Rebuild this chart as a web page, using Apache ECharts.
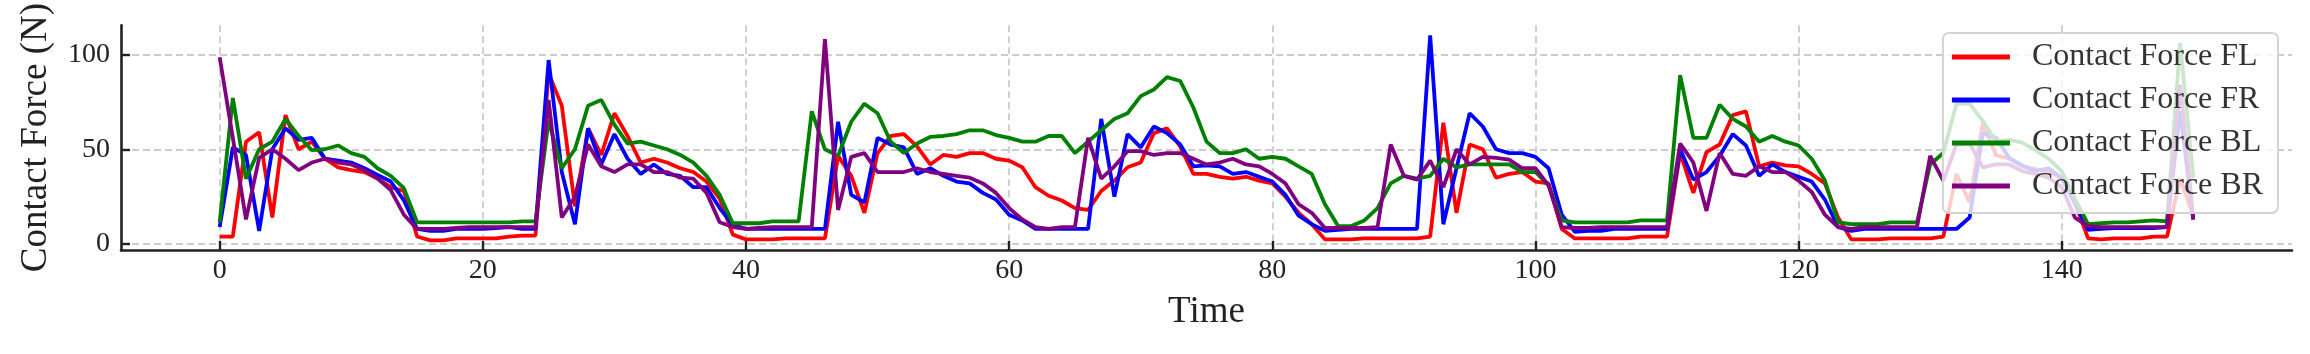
<!DOCTYPE html>
<html>
<head>
<meta charset="utf-8">
<script src="https://cdn.jsdelivr.net/npm/echarts@6/dist/echarts.min.js"></script>
<style>
html, body { margin: 0; padding: 0; background: #fff; }
#chart { width: 2310px; height: 354px; }
</style>
</head>
<body>
<div id="chart"></div>
<script>
// contact force per time step (N)
const forceFL = [4, 4, 54, 59, 14, 68, 50, 54, 45, 40.5, 39, 38, 34.5, 30, 28, 4, 2, 2, 3, 3,
  3, 3, 4, 4.5, 4.5, 90, 73, 20, 61, 47, 69, 57, 43, 45, 43, 40, 38, 33, 24, 5,
  2.5, 2.5, 2.5, 3, 3, 3, 3, 46.5, 36, 16.5, 48, 57, 58, 51.5, 42, 47, 46, 48, 48, 45,
  44, 40.5, 30, 25.5, 23, 19, 18, 28, 33.5, 40.5, 43, 58.5, 61, 51.5, 37, 37, 35.5, 34.5, 35.5, 33.5,
  32, 25, 16.5, 10.5, 2.5, 2.5, 2.5, 3, 3, 3, 3, 3, 4, 64, 16.5, 52.5, 50, 35, 37, 38,
  33, 32, 8, 3, 3, 3, 3, 3, 4, 4, 4, 48, 27, 48.5, 52.5, 68, 70, 41, 43, 41.5,
  41, 37, 32, 14, 2.5, 2.5, 2.5, 3, 3, 3, 3, 4, 37, 22, 64, 47, 45, 41, 39.5, 38,
  35, 22, 3, 2.5, 3, 3, 3, 4, 4, 34.5, 15];
const forceFR = [9, 51, 47, 7, 50, 61, 55, 56, 45, 44, 43, 40, 36.5, 33, 23, 8, 7, 7, 8, 8,
  8, 8.5, 9, 8, 8, 97, 38, 10.5, 61, 42, 58, 45, 37, 42, 37, 36, 30, 30, 19, 10,
  8, 8, 8, 8, 8, 8, 8, 64.5, 26, 22, 56, 52.5, 51, 37, 40, 36, 33, 32, 27, 23.5,
  15.5, 12.5, 8, 8, 8, 8, 8, 66, 25, 58, 51, 62, 58.5, 52.5, 41, 41.5, 41, 37, 38, 35.5,
  33, 26, 15, 10.5, 7, 7.5, 8, 8, 8, 8, 8, 8, 110, 10.5, 40, 69, 62, 50, 48, 48,
  46, 40, 15.5, 6.5, 7, 7, 8, 8, 8, 8, 8, 50, 34, 38, 46.5, 58, 52, 36, 42, 38,
  35.5, 33, 23.5, 9, 7, 8, 8, 8, 8, 8, 8, 8, 8, 14, 58.5, 56, 45.5, 41.5, 38.5, 40,
  35, 21.5, 7.5, 8, 8.5, 8.5, 8.5, 8.5, 9, 70, 13];
const forceBL = [11.5, 77, 34.5, 50, 54, 66, 57, 49.5, 50, 52, 48, 46, 40, 36, 29.5, 11.5, 11.5, 11.5, 11.5, 11.5,
  11.5, 11.5, 11.5, 12, 12, 65, 40, 50, 73, 76, 63, 53, 54, 52, 50, 47, 43, 36, 26, 11,
  11, 11, 12, 12, 12, 70, 50, 46.5, 64.5, 74, 69, 54, 48, 53, 56.5, 57, 58, 60, 60, 57.5,
  56, 54, 54, 57, 57, 48, 54, 60, 66, 69, 78, 81.5, 88, 86, 72, 54, 48, 48, 50, 45,
  46, 45, 41, 37, 21, 9.5, 9.5, 12.5, 19, 32, 36, 34.5, 36, 45, 40.5, 42, 42, 42, 42, 38,
  38, 31, 12.5, 11.5, 11.5, 11.5, 11.5, 11.5, 12.5, 12.5, 12.5, 89, 56, 56, 73.5, 66, 62, 54, 57, 54,
  52, 45, 33.5, 11.5, 10.5, 10.5, 10.5, 11.5, 11.5, 11.5, 42, 48, 74, 74, 65, 54, 55, 53.5, 49.5, 45,
  38.5, 24, 10.5, 11, 11.5, 11.5, 12, 12.5, 12, 106, 35];
const forceBR = [98.5, 56, 13, 45.5, 50, 45, 39, 43, 45, 43, 42, 39, 34.5, 28.5, 15.5, 8, 8, 8, 8.5, 9,
  9, 9, 9, 9, 9, 76, 14, 25, 52.5, 41, 38, 42, 42, 38, 38, 35, 34.5, 27, 11.5, 9,
  8, 8.5, 9, 9, 9, 9, 108, 18, 46, 48, 38, 38, 38, 40, 38, 37, 36, 35, 32, 27,
  19, 13, 9, 8, 9, 9, 56, 34.5, 41, 49, 49, 47, 48, 48, 45, 42, 43, 45, 42, 41,
  37, 32, 21, 16.5, 8.5, 8.5, 8.5, 8.5, 9, 52.5, 36, 34, 44, 30, 50, 42, 46, 45.5, 44.5, 40,
  40, 31, 9, 8.5, 8.5, 9, 9, 9, 9, 9, 9, 53, 43, 17.5, 48, 37, 36, 41, 38, 38,
  33.5, 27.5, 15.5, 9, 8, 9, 9, 9, 9, 9, 46.5, 33.5, 52.5, 53, 40.5, 42, 42, 38.5, 37, 35,
  30, 14, 9.5, 9, 9, 9, 9, 9, 9, 84, 13];

const seriesNames = ['Contact Force FL', 'Contact Force FR', 'Contact Force BL', 'Contact Force BR'];
const seriesColors = ['#ff0000', '#0000ff', '#008000', '#800080'];
const xTicks = [0, 20, 40, 60, 80, 100, 120, 140];
const yTicks = [0, 50, 100];

const serif = 'Liberation Serif, Times New Roman, serif';
const ink = '#222';

const chart = echarts.init(document.getElementById('chart'));

const allSeries = [forceFL, forceFR, forceBL, forceBR].map(function (vals, k) {
  return {
    name: seriesNames[k],
    type: 'line',
    data: vals.map(function (v, i) { return [i, v]; }),
    showSymbol: false,
    symbol: 'none',
    animation: false,
    lineStyle: { color: seriesColors[k], width: 3.8 },
    itemStyle: { color: seriesColors[k] }
  };
});

chart.setOption({
  animation: false,
  grid: { left: 121, right: 18, top: 19, bottom: 104 },
  xAxis: {
    type: 'value',
    min: -7.5,
    max: 157.5,
    name: 'Time',
    nameLocation: 'middle',
    nameGap: 44,
    nameTextStyle: { fontFamily: serif, fontSize: 37, color: ink },
    axisLine: { show: true, onZero: false, lineStyle: { color: ink, width: 2.6 } },
    axisTick: { show: true, inside: true, length: 9, customValues: xTicks, lineStyle: { color: ink, width: 2.4 } },
    axisLabel: { customValues: xTicks, margin: 7, fontFamily: serif, fontSize: 28, color: ink },
    splitLine: { show: true, lineStyle: { color: '#cccccc', width: 1.8, type: [7, 4] } }
  },
  yAxis: {
    type: 'value',
    min: -3.1,
    max: 115.4,
    name: 'Contact Force (N)',
    nameLocation: 'middle',
    nameRotate: 90,
    nameGap: 66,
    nameTextStyle: { fontFamily: serif, fontSize: 37, color: ink },
    axisLine: { show: true, onZero: false, lineStyle: { color: ink, width: 2.6 } },
    axisTick: { show: true, inside: true, length: 9, customValues: yTicks, lineStyle: { color: ink, width: 2.4 } },
    axisLabel: { customValues: yTicks, margin: 11, fontFamily: serif, fontSize: 28, color: ink },
    splitLine: { show: true, lineStyle: { color: '#cccccc', width: 1.8, type: [7, 4] } }
  },
  legend: {
    orient: 'vertical',
    right: 32,
    top: 33,
    padding: [6, 15, 9, 9],
    itemGap: 7,
    itemWidth: 58,
    itemHeight: 5,
    icon: 'rect',
    backgroundColor: 'rgba(255,255,255,0.8)',
    borderColor: '#d4d4d4',
    borderWidth: 2,
    borderRadius: 6,
    textStyle: { fontFamily: serif, fontSize: 32, color: '#333', lineHeight: 36, padding: [0, 0, 0, 17] },
    data: seriesNames
  },
  series: allSeries
});
</script>
</body>
</html>
